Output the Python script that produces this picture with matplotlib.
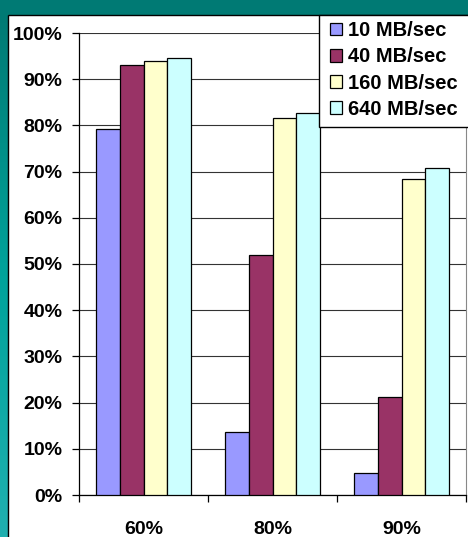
import numpy as np
import matplotlib.pyplot as plt
from matplotlib.patches import Rectangle
from matplotlib.colors import LinearSegmentedColormap

plt.rcParams['font.family'] = ['Liberation Sans', 'DejaVu Sans']
plt.rcParams['font.weight'] = 'bold'

# utilisation par charge et par debit
categories = ['60%', '80%', '90%']
series = ['10 MB/sec', '40 MB/sec', '160 MB/sec', '640 MB/sec']
v10 = [79.3, 13.7, 4.7]
v40 = [93.1, 52.0, 21.3]
v160 = [93.9, 81.5, 68.5]
v640 = [94.5, 82.6, 70.7]
values = [v10, v40, v160, v640]
colors = ['#9999FF', '#993366', '#FFFFCC', '#CCFFFF']

W, H = 468, 537
fig = plt.figure(figsize=(W / 100, H / 100), dpi=100)
fig.patch.set_facecolor('white')

# fond vert canard (bandeau haut + bande gauche en degrade)
fig.add_artist(Rectangle((0, 1 - 15 / H), 1, 15 / H, transform=fig.transFigure,
                         facecolor='#007a74', edgecolor='none', zorder=0))
grad = LinearSegmentedColormap.from_list('teal', ['#007a74', '#00a39b', '#20b0b0'])
bg = fig.add_axes([0, 0, 8 / W, 1 - 15 / H], zorder=-1)
bg.imshow(np.linspace(0, 1, 256).reshape(-1, 1), aspect='auto', cmap=grad,
          extent=[0, 1, 0, 1])
bg.axis('off')
fig.add_artist(Rectangle((8 / W, -0.01), 1.01, 1 - 15 / H + 0.01, transform=fig.transFigure,
                         facecolor='none', edgecolor='black', linewidth=1.0, zorder=0.5))

ax = fig.add_axes([79 / W, 1 - 495 / H, 387 / W, 462 / H])
x = np.arange(len(categories))
bw = 0.183
for i, (name, vals, c) in enumerate(zip(series, values, colors)):
    ax.bar(x + (i - 1.5) * bw, np.array(vals) / 100, bw, color=c,
           edgecolor='black', linewidth=0.9, label=name, zorder=3)

ax.set_xlim(-0.5, 2.5)
ax.set_ylim(0, 1)
ax.set_yticks(np.arange(0, 1.01, 0.1))
ax.set_yticklabels([f'{int(round(t * 100))}%' for t in np.arange(0, 1.01, 0.1)])
ax.yaxis.grid(True, color='#333333', linewidth=0.8, zorder=0)
ax.set_axisbelow(True)
ax.set_xticks(x)
ax.set_xticklabels(categories)
ax.set_xticks([-0.5, 0.5, 1.5, 2.5], minor=True)
ax.tick_params(axis='x', which='major', length=0, pad=19, labelsize=14)
ax.tick_params(axis='x', which='minor', length=5, width=0.9, direction='out')
ax.tick_params(axis='y', length=5, width=0.9, pad=7, labelsize=14)
for lbl in ax.get_xticklabels() + ax.get_yticklabels():
    lbl.set_fontweight('bold')
ax.spines['top'].set_visible(False)
ax.spines['right'].set_color('#888888')
for s in ['left', 'bottom']:
    ax.spines[s].set_linewidth(0.9)

# cadre de la legende
fig.add_artist(Rectangle((319 / W, 1 - 127 / H), 160 / W, 112 / H, transform=fig.transFigure,
                         facecolor='white', edgecolor='black', linewidth=1.0, zorder=3))
handles, labels = ax.get_legend_handles_labels()
fig.legend(handles, labels, loc='upper left', bbox_to_anchor=(328 / W, 1 - 19 / H),
           frameon=False, handlelength=0.6, handleheight=0.6, handletextpad=0.3,
           labelspacing=0.36, borderpad=0.1, borderaxespad=0,
           prop={'size': 14.5, 'weight': 'bold'})

fig.savefig('out.png', dpi=100)
